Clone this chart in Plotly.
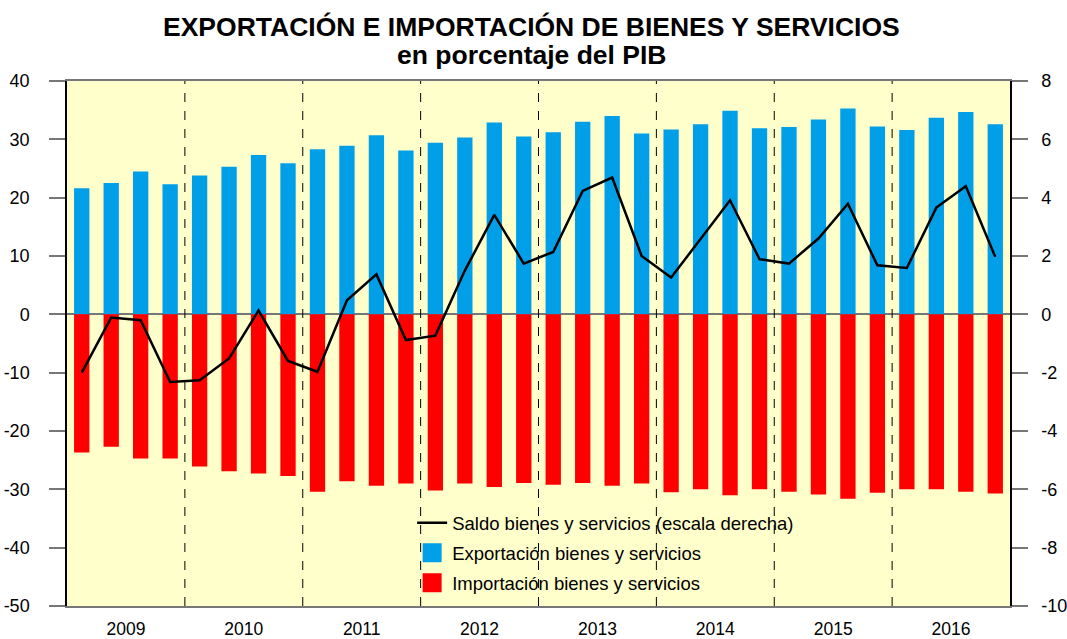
import plotly.graph_objects as go

years = ["2009", "2010", "2011", "2012", "2013", "2014", "2015", "2016"]
quarters_per_year = 4

exportacion = [21.6, 22.5, 24.5, 22.3, 23.8, 25.3, 27.3, 25.9,
               28.3, 28.9, 30.7, 28.1, 29.4, 30.3, 32.9, 30.5,
               31.2, 33.0, 34.0, 31.0, 31.7, 32.6, 34.9, 31.9,
               32.1, 33.4, 35.3, 32.2, 31.6, 33.7, 34.7, 32.6]

importacion = [-23.7, -22.7, -24.7, -24.7, -26.1, -26.9, -27.3, -27.7,
               -30.4, -28.6, -29.4, -29.0, -30.2, -29.0, -29.6, -28.9,
               -29.2, -28.9, -29.4, -29.0, -30.5, -30.0, -31.0, -30.0,
               -30.4, -30.9, -31.6, -30.6, -30.0, -30.0, -30.4, -30.7]

saldo = [-2.0, -0.11, -0.2, -2.32, -2.26, -1.51, 0.13, -1.6,
         -1.97, 0.48, 1.37, -0.88, -0.73, 1.5, 3.41, 1.74,
         2.14, 4.23, 4.69, 2.0, 1.26, 2.6, 3.91, 1.89,
         1.74, 2.6, 3.79, 1.68, 1.59, 3.66, 4.39, 1.97]

left_ticks = [40, 30, 20, 10, 0, -10, -20, -30, -40, -50]
left_ticktext = ["40", "30", "20", "10", "0", "-10", "-20", "-30", "-40", "-50"]
right_ticks = [8, 6, 4, 2, 0, -2, -4, -6, -8, -10]
right_ticktext = ["8", "6", "4", "2", "0", "-2", "-4", "-6", "-8", "-10"]

name_saldo = "Saldo bienes y servicios (escala derecha)"
name_exp = "Exportación bienes y servicios"
name_imp = "Importación bienes y servicios"
color_exp = "#009FE8"
color_imp = "#FF0000"

n = len(exportacion)
x = list(range(n))
year_centers = [i * quarters_per_year + (quarters_per_year - 1) / 2 for i in range(len(years))]
year_bounds = [i * quarters_per_year - 0.5 for i in range(1, len(years))]

FONT = "Liberation Sans, Arial, sans-serif"

fig = go.Figure()

fig.add_trace(go.Bar(
    x=x, y=exportacion, marker=dict(color=color_exp, line=dict(width=0)),
    name=name_exp, width=0.52, showlegend=False,
))
fig.add_trace(go.Bar(
    x=x, y=importacion, marker=dict(color=color_imp, line=dict(width=0)),
    name=name_imp, width=0.52, showlegend=False,
))
fig.add_trace(go.Scatter(
    x=x, y=saldo, yaxis="y2", mode="lines",
    line=dict(color="black", width=2.5),
    name=name_saldo, legendgroup="a", legendrank=1,
))
# legend entries for the bars (larger square swatches)
fig.add_trace(go.Scatter(
    x=[None], y=[None], mode="markers", name=name_exp,
    marker=dict(symbol="square", size=16, color=color_exp, line=dict(color=color_exp, width=3)),
    legendgroup="b", legendrank=2,
))
fig.add_trace(go.Scatter(
    x=[None], y=[None], mode="markers", name=name_imp,
    marker=dict(symbol="square", size=16, color=color_imp, line=dict(color=color_imp, width=3)),
    legendgroup="c", legendrank=3,
))

shapes = []
for b in year_bounds:
    shapes.append(dict(type="line", xref="x", yref="paper", x0=b, x1=b, y0=0, y1=1,
                       line=dict(color="black", width=1, dash="dash"), layer="above"))

# plot area 67..1010 x 81..606 in page px
PH = 525
annotations = [
    dict(text="<b>EXPORTACIÓN E IMPORTACIÓN DE BIENES Y SERVICIOS</b>",
         xref="paper", yref="paper", x=0.493, y=1 + (81 - 27.5) / PH, xanchor="center", yanchor="middle",
         showarrow=False, font=dict(family=FONT, size=26.5, color="black")),
    dict(text="<b>en porcentaje del PIB</b>",
         xref="paper", yref="paper", x=0.493, y=1 + (81 - 55) / PH, xanchor="center", yanchor="middle",
         showarrow=False, font=dict(family=FONT, size=26.5, color="black")),
]

fig.update_layout(
    width=1067, height=639,
    margin=dict(l=67, r=57, t=81, b=33),
    paper_bgcolor="white",
    plot_bgcolor="#FFFFCC",
    barmode="relative",
    font=dict(family=FONT, size=18, color="black"),
    xaxis=dict(
        range=[-0.5, n - 0.5],
        tickmode="array", tickvals=year_centers, ticktext=years,
        ticks="", showgrid=False, zeroline=False,
        showline=True, linecolor="#777777", linewidth=1.5, mirror=True,
        tickfont=dict(size=17.5), automargin=False, ticklabelstandoff=6,
    ),
    yaxis=dict(
        range=[-50, 40], tickmode="array", tickvals=left_ticks, ticktext=left_ticktext,
        ticks="outside", ticklen=16, tickcolor="#777777", tickwidth=1.5,
        showgrid=False, zeroline=True, zerolinecolor="#777777", zerolinewidth=1.5,
        showline=True, linecolor="black", linewidth=1.5,
        tickfont=dict(size=18), automargin=False, ticklabelstandoff=16,
    ),
    yaxis2=dict(
        range=[-10, 8], tickmode="array", tickvals=right_ticks, ticktext=right_ticktext,
        overlaying="y", side="right",
        ticks="outside", ticklen=16, tickcolor="#777777", tickwidth=1.5,
        showgrid=False, zeroline=False,
        showline=True, linecolor="black", linewidth=1.5,
        tickfont=dict(size=18), automargin=False, ticklabelstandoff=10,
    ),
    legend=dict(
        x=0.366, y=0.194, xanchor="left", yanchor="top",
        bgcolor="rgba(0,0,0,0)",
        font=dict(family=FONT, size=18.5),
        traceorder="grouped", tracegroupgap=3,
    ),
    shapes=shapes,
    annotations=annotations,
)

fig.write_html("out.html", config={"displayModeBar": False},
               post_script="document.body.style.margin='0';document.body.style.overflow='hidden';")
